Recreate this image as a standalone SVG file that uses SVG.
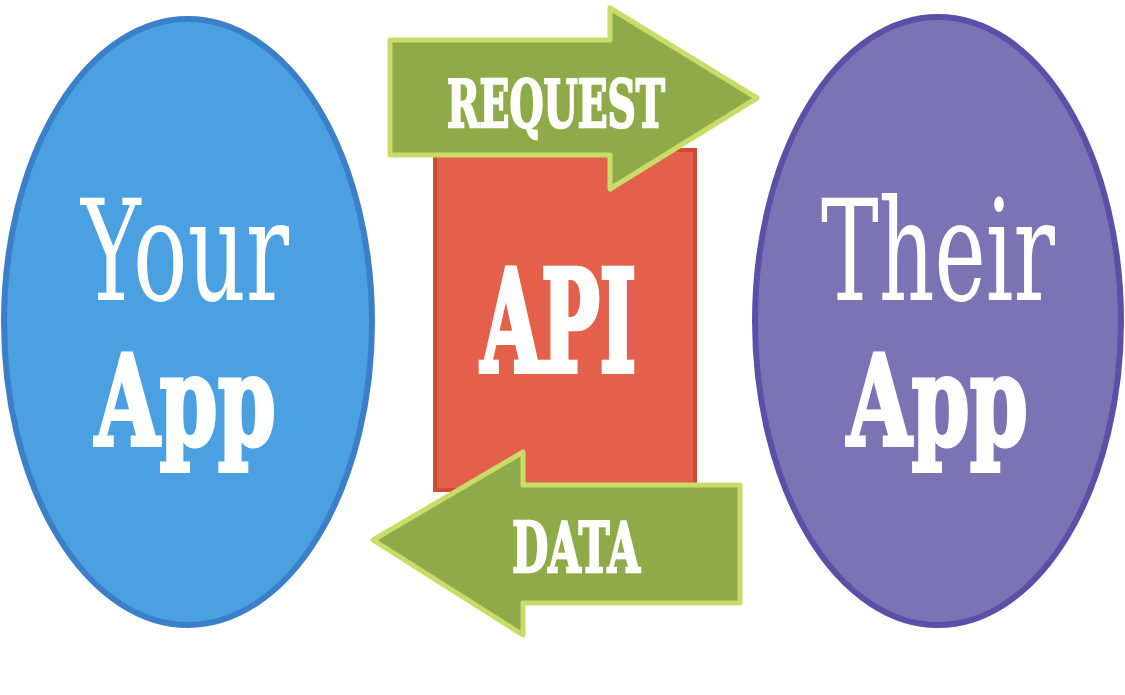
<svg xmlns="http://www.w3.org/2000/svg" width="1125" height="695" viewBox="0 0 1125 695">
<style>
.t{fill:#ffffff;font-family:"DejaVu Serif","Liberation Serif",serif;}
.light{font-weight:normal;}
.bold{font-weight:bold;stroke:#ffffff;stroke-linejoin:miter;}
.arrow{fill:#8faa48;stroke:#c9dc6a;stroke-width:5;stroke-linejoin:round;}
</style>
<rect width="1125" height="695" fill="#ffffff"/>
<g id="your-app">
<ellipse cx="188" cy="322" rx="184" ry="303" fill="#4aa0e0" stroke="#3b7fc8" stroke-width="6"/>
<text class="t light" transform="translate(81,300) scale(1,1.4)" x="0" y="0" font-size="100" textLength="208" lengthAdjust="spacingAndGlyphs">Your</text>
<text class="t bold" x="95" y="445" font-size="126" stroke-width="4" textLength="181" lengthAdjust="spacingAndGlyphs">App</text>
</g>
<g id="their-app">
<ellipse cx="938" cy="321" rx="183" ry="304" fill="#7b73b4" stroke="#5b50a8" stroke-width="6"/>
<text class="t light" transform="translate(821,300) scale(1,1.4)" x="0" y="0" font-size="100" textLength="234" lengthAdjust="spacingAndGlyphs">Their</text>
<text class="t bold" x="847" y="445" font-size="126" stroke-width="4" textLength="181" lengthAdjust="spacingAndGlyphs">App</text>
</g>
<g id="api">
<rect x="435" y="150" width="260" height="340" fill="#e5604b" stroke="#d04a36" stroke-width="4"/>
<text class="t bold" x="481" y="371" font-size="141" stroke-width="6" textLength="155" lengthAdjust="spacingAndGlyphs">API</text>
</g>
<g id="connectors">
<g id="request">
<polygon class="arrow" points="390,40 610,40 610,8 757,98 610,189 610,155 390,155"/>
<text class="t bold" x="447" y="127" font-size="66" stroke-width="2.5" textLength="218" lengthAdjust="spacingAndGlyphs">REQUEST</text>
</g>
<g id="data">
<polygon class="arrow" points="373,540 523,452 523,485 740,485 740,603 523,603 523,635"/>
<text class="t bold" x="512" y="572" font-size="70" stroke-width="2.5" textLength="128" lengthAdjust="spacingAndGlyphs">DATA</text>
</g>
</g>
</svg>
